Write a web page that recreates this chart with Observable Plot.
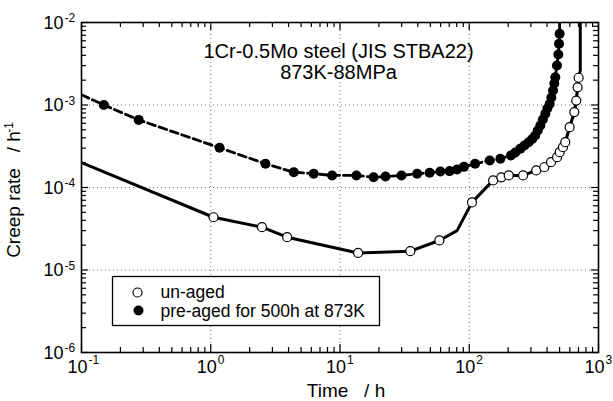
<!DOCTYPE html>
<html>
<head>
<meta charset="utf-8">
<script src="https://cdn.jsdelivr.net/npm/d3@7"></script>
<script src="https://cdn.jsdelivr.net/npm/@observablehq/plot@0.6"></script>
<style>
  html, body { margin: 0; padding: 0; background: #fff; }
  svg { display: block; }
</style>
</head>
<body>
<div id="chart"></div>
<script>
// ---- data ----
// un-aged (open circles)
const unTime = [1.05, 2.49, 3.9, 13.8, 35, 58.7, 105, 153, 177, 202, 261, 330, 381, 429, 478, 501, 531, 553, 598, 650, 673, 689, 702];
const unRate = [4.36e-5, 3.3e-5, 2.5e-5, 1.61e-5, 1.69e-5, 2.28e-5, 6.6e-5, 1.22e-4, 1.33e-4, 1.40e-4, 1.40e-4, 1.61e-4, 1.76e-4, 2.03e-4, 2.33e-4, 2.68e-4, 3.08e-4, 3.54e-4, 5.38e-4, 8.2e-4, 1.13e-3, 1.64e-3, 2.14e-3];
// solid curve of un-aged
const unCurveTime = [0.1, 1.05, 2.49, 3.9, 13.8, 35, 58.7, 80.5, 105, 153, 177, 202, 261, 330, 381, 429, 478, 501, 531, 553, 598, 650, 673, 689, 702, 723, 723];
const unCurveRate = [2.0e-4, 4.36e-5, 3.3e-5, 2.5e-5, 1.61e-5, 1.69e-5, 2.28e-5, 3.0e-5, 6.6e-5, 1.22e-4, 1.33e-4, 1.40e-4, 1.40e-4, 1.61e-4, 1.76e-4, 2.03e-4, 2.33e-4, 2.68e-4, 3.08e-4, 3.54e-4, 5.38e-4, 8.2e-4, 1.13e-3, 1.64e-3, 2.14e-3, 2.6e-3, 1.5e-2];

// pre-aged for 500h at 873K (filled circles)
const preTime = [0.149, 0.277, 1.17, 2.65, 4.39, 6.26, 8.69, 13.4, 18.2, 22.5, 29.9, 39.5, 49.4, 59.8, 70.5, 80.5, 91, 111, 144, 174, 210, 227, 248, 267, 288, 307, 324, 339, 355, 371, 388, 402, 419, 432, 445, 455, 463, 477, 489, 495, 500];
const preRate = [1.0e-3, 6.6e-4, 3.03e-4, 1.94e-4, 1.53e-4, 1.47e-4, 1.40e-4, 1.40e-4, 1.33e-4, 1.36e-4, 1.40e-4, 1.47e-4, 1.51e-4, 1.56e-4, 1.58e-4, 1.65e-4, 1.78e-4, 1.94e-4, 2.12e-4, 2.23e-4, 2.44e-4, 2.65e-4, 2.94e-4, 3.23e-4, 3.54e-4, 3.87e-4, 4.27e-4, 4.91e-4, 5.65e-4, 6.68e-4, 7.82e-4, 9.07e-4, 1.03e-3, 1.23e-3, 1.50e-3, 1.82e-3, 2.17e-3, 3.01e-3, 4.09e-3, 5.52e-3, 7.30e-3];
// dashed curve of pre-aged
const preCurveTime = [0.1, ...preTime, 500];
const preCurveRate = [1.33e-3, ...preRate, 1.5e-2];

// axes
const xDecades = [0.1, 1, 10, 100, 1000];
const yDecades = [1e-6, 1e-5, 1e-4, 1e-3, 1e-2];
const xGrid = [1, 10, 100];
const yGrid = [1e-5, 1e-4, 1e-3];
const mult = [2, 3, 4, 5, 6, 7, 8, 9];
const xMinor = [0.1, 1, 10, 100].flatMap(d => mult.map(m => d * m));
const yMinor = [1e-6, 1e-5, 1e-4, 1e-3].flatMap(d => mult.map(m => d * m));

const titleLines = ["1Cr-0.5Mo steel (JIS STBA22)", "873K-88MPa"];
const xTitle = "Time\u00a0\u00a0\u00a0/ h";
const yTitle = "Creep rate\u00a0\u00a0\u00a0/ h";
const yTitleExp = "-1";
const legendLabels = ["un-aged", "pre-aged for 500h at 873K"];

// ---- build ----
const un = unTime.map((t, i) => ({t, r: unRate[i]}));
const unCurve = unCurveTime.map((t, i) => ({t, r: unCurveRate[i]}));
const pre = preTime.map((t, i) => ({t, r: preRate[i]}));
const preCurve = preCurveTime.map((t, i) => ({t, r: preCurveRate[i]}));

const W = 613, H = 401;
const mT = 22, mR = 15, mB = 49, mL = 81;
const FW = W - mL - mR, FH = H - mT - mB;
const expOf = d => String(Math.round(Math.log10(d)));
const T = {lineAnchor: "middle"};

const chart = Plot.plot({
  width: W, height: H,
  marginTop: mT, marginRight: mR, marginBottom: mB, marginLeft: mL,
  x: {type: "log", domain: [0.1, 1000], axis: null},
  y: {type: "log", domain: [1e-6, 1e-2], axis: null},
  style: {fontFamily: "'Liberation Sans', Arial, Helvetica, sans-serif", background: "white", color: "black"},
  marks: [
    // grid
    Plot.ruleX(xGrid, {x: d => d, stroke: "#777", strokeDasharray: "1,3", strokeWidth: 1}),
    Plot.ruleY(yGrid, {y: d => d, stroke: "#777", strokeDasharray: "1,3", strokeWidth: 1}),
    // ticks (inward, all four sides)
    Plot.ruleX(xDecades, {x: d => d, insetTop: FH - 8, stroke: "black", strokeWidth: 1.2}),
    Plot.ruleX(xDecades, {x: d => d, insetBottom: FH - 8, stroke: "black", strokeWidth: 1.2}),
    Plot.ruleX(xMinor, {x: d => d, insetTop: FH - 5, stroke: "black", strokeWidth: 1.2}),
    Plot.ruleX(xMinor, {x: d => d, insetBottom: FH - 5, stroke: "black", strokeWidth: 1.2}),
    Plot.ruleY(yDecades, {y: d => d, insetRight: FW - 7, stroke: "black", strokeWidth: 1.2}),
    Plot.ruleY(yDecades, {y: d => d, insetLeft: FW - 7, stroke: "black", strokeWidth: 1.2}),
    Plot.ruleY(yMinor, {y: d => d, insetRight: FW - 5, stroke: "black", strokeWidth: 1.2}),
    Plot.ruleY(yMinor, {y: d => d, insetLeft: FW - 5, stroke: "black", strokeWidth: 1.2}),
    // legend box
    Plot.frame({insetLeft: 31, insetRight: 219, insetTop: 254, insetBottom: 27, fill: "white", stroke: "black", strokeWidth: 1.3}),
    // curves
    Plot.line(unCurve, {x: "t", y: "r", stroke: "black", strokeWidth: 3, clip: true}),
    Plot.line(preCurve, {x: "t", y: "r", stroke: "black", strokeWidth: 2.8, strokeDasharray: "8,4", clip: true}),
    // markers
    Plot.dot(pre, {x: "t", y: "r", r: 5, fill: "black", stroke: "none"}),
    Plot.dot(un, {x: "t", y: "r", r: 4.5, fill: "white", stroke: "black", strokeWidth: 1.2}),
    // frame
    Plot.frame({stroke: "black", strokeWidth: 1.6}),
    // tick labels
    Plot.text(xDecades, {...T, x: d => d, frameAnchor: "bottom", text: () => "10", textAnchor: "end", dx: 6, dy: 15.2, fontSize: 18}),
    Plot.text(xDecades, {...T, x: d => d, frameAnchor: "bottom", text: expOf, textAnchor: "start", dx: 7, dy: 7.5, fontSize: 12}),
    Plot.text(yDecades, {...T, y: d => d, frameAnchor: "left", text: () => "10", textAnchor: "end", dx: -18, dy: 0.5, fontSize: 18}),
    Plot.text(yDecades, {...T, y: d => d, frameAnchor: "left", text: expOf, textAnchor: "start", dx: -17, dy: -4.1, fontSize: 12}),
    // axis titles
    Plot.text([xTitle], {...T, frameAnchor: "bottom", textAnchor: "middle", text: d => d, dx: 6, dy: 38.5, fontSize: 19}),
    Plot.text([yTitle], {...T, frameAnchor: "left", textAnchor: "middle", text: d => d, rotate: -90, dx: -68, dy: 7, fontSize: 19}),
    Plot.text([yTitleExp], {...T, frameAnchor: "left", textAnchor: "middle", text: d => d, rotate: -90, dx: -72.8, dy: -60, fontSize: 12}),
    // annotation
    Plot.text([titleLines[0]], {...T, frameAnchor: "top", textAnchor: "middle", text: d => d, dx: -1.5, dy: 28.9, fontSize: 20}),
    Plot.text([titleLines[1]], {...T, frameAnchor: "top", textAnchor: "middle", text: d => d, dx: -1.5, dy: 49.9, fontSize: 20}),
    // legend
    Plot.dot([legendLabels[0]], {frameAnchor: "bottom-left", dx: 56, dy: -60, r: 4.5, fill: "white", stroke: "black", strokeWidth: 1.2}),
    Plot.dot([legendLabels[1]], {frameAnchor: "bottom-left", dx: 57, dy: -42, r: 5, fill: "black"}),
    Plot.text([legendLabels[0]], {...T, frameAnchor: "bottom-left", text: d => d, textAnchor: "start", dx: 79, dy: -60.5, fontSize: 17.5}),
    Plot.text([legendLabels[1]], {...T, frameAnchor: "bottom-left", text: d => d, textAnchor: "start", dx: 79, dy: -41.5, fontSize: 17.5})
  ]
});
document.getElementById("chart").appendChild(chart);
</script>
</body>
</html>
